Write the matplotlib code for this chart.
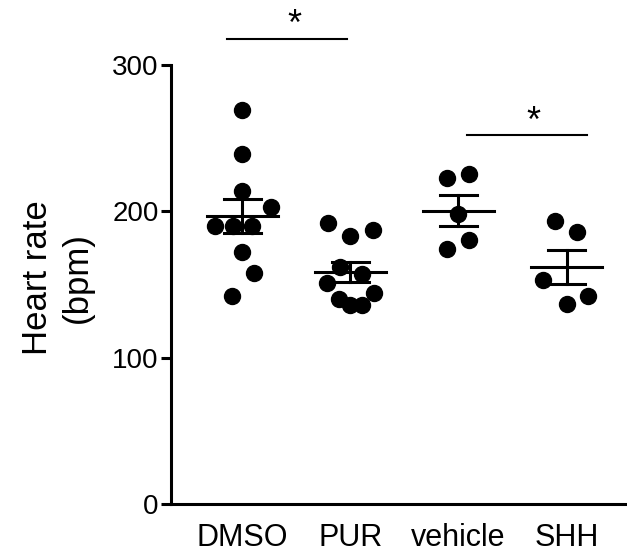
import numpy as np
import matplotlib
matplotlib.use("Agg")
import matplotlib.pyplot as plt

plt.rcParams['font.family'] = ['Liberation Sans', 'DejaVu Sans']

groups = ['DMSO', 'PUR', 'vehicle', 'SHH']

# heart rate (bpm) per animal
dmso = [269, 239, 214, 203, 190, 190, 190, 172, 158, 142]
pur = [192, 183, 187, 162, 157, 151, 144, 140, 136, 136]
vehicle = [222.6, 225.8, 198.2, 174.3, 180.6]
shh = [193.3, 186, 153, 142, 136.4]

# horizontal scatter offsets of the dots
dmso_dx = [0, 0, 0, 0.26, -0.25, -0.09, 0.09, 0, 0.11, -0.10]
pur_dx = [-0.21, 0, 0.21, -0.10, 0.11, -0.22, 0.22, -0.11, 0, 0.11]
vehicle_dx = [-0.11, 0.10, 0, -0.11, 0.10]
shh_dx = [-0.11, 0.10, -0.22, 0.20, 0]

data = [dmso, pur, vehicle, shh]
offsets = [dmso_dx, pur_dx, vehicle_dx, shh_dx]

fig = plt.figure(figsize=(6.27, 5.6), dpi=100)
ax = fig.add_axes([0.273, 0.1, 0.727, 0.784])

lw = 2.2
for i, (vals, dx) in enumerate(zip(data, offsets)):
    vals = np.array(vals)
    ax.plot(i + np.array(dx), vals, 'o', color='black', markersize=11.5,
            zorder=3, clip_on=False)
    m = vals.mean()
    sem = vals.std(ddof=1) / np.sqrt(len(vals))
    ax.plot([i - 0.325, i + 0.325], [m, m], color='black', lw=lw, zorder=4)
    ax.plot([i, i], [m - sem, m + sem], color='black', lw=lw, zorder=4)
    for y in (m - sem, m + sem):
        ax.plot([i - 0.175, i + 0.175], [y, y], color='black', lw=lw, zorder=4)

# significance bars
ax.plot([-0.14, 0.97], [318, 318], color='black', lw=1.5, clip_on=False)
ax.text(0.48, 315, '*', ha='center', va='bottom', fontsize=26)
ax.plot([2.08, 3.19], [252, 252], color='black', lw=1.5, clip_on=False)
ax.text(2.69, 249, '*', ha='center', va='bottom', fontsize=26)

ax.set_xlim(-0.66, 3.56)
ax.set_ylim(0, 300)
ax.set_yticks([0, 100, 200, 300])
ax.set_xticks(range(4))
ax.set_xticklabels(groups, fontsize=22)
ax.tick_params(axis='y', labelsize=20, width=lw, length=7, pad=2)
ax.tick_params(axis='x', length=0, pad=14)
for s in ['top', 'right']:
    ax.spines[s].set_visible(False)
for s in ['left', 'bottom']:
    ax.spines[s].set_linewidth(lw)

ax.set_ylabel('Heart rate\n(bpm)', fontsize=25, linespacing=1.27)
ax.yaxis.set_label_coords(-0.17, 0.515)

fig.savefig('out.png', dpi=100)
